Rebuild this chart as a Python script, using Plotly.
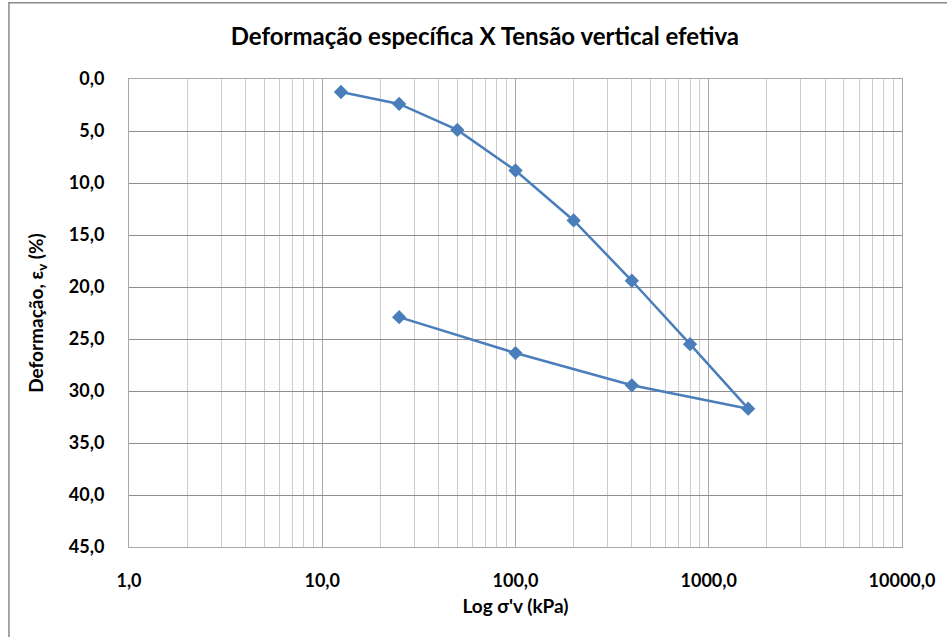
import plotly.graph_objects as go

# Data (single series: loading then unloading)
tensao_kpa = [12.5, 25, 50, 100, 200, 400, 800, 1600, 400, 100, 25]
deformacao_pct = [1.25, 2.4, 4.9, 8.8, 13.6, 19.4, 25.5, 31.7, 29.45, 26.35, 22.9]

x_tickvals = [1, 10, 100, 1000, 10000]
x_ticktext = ["1,0", "10,0", "100,0", "1000,0", "10000,0"]
y_tickvals = [0, 5, 10, 15, 20, 25, 30, 35, 40, 45]
y_ticktext = ["0,0", "5,0", "10,0", "15,0", "20,0", "25,0", "30,0", "35,0", "40,0", "45,0"]

minor_vals = [m * 10 ** d for d in range(4) for m in range(2, 10)]

FONT = "Lato"
TXT = "#000000"

fig = go.Figure()
fig.add_trace(go.Scatter(
    x=tensao_kpa, y=deformacao_pct, mode="lines+markers",
    line=dict(color="#4A7EBB", width=2.5),
    marker=dict(symbol="diamond", size=11, color="#4A7EBB"),
    showlegend=False,
))

fig.update_layout(
    width=947, height=637,
    margin=dict(l=129, r=45, t=79, b=90),
    paper_bgcolor="white", plot_bgcolor="white",
    font=dict(family=FONT, color=TXT),
    title=dict(text="<b>Deformação específica X Tensão vertical efetiva</b>",
               x=0.512, xanchor="center", y=0.942, yanchor="middle",
               font=dict(size=24, family=FONT, color="#000000")),
    xaxis=dict(
        type="log", range=[0, 4],
        tickmode="array", tickvals=x_tickvals,
        ticktext=["<b>" + t + "</b>" for t in x_ticktext],
        tickfont=dict(size=18, family=FONT, color=TXT),
        showgrid=True, gridcolor="#a8a8a8", gridwidth=1,
        minor=dict(tickmode="array", tickvals=minor_vals, showgrid=True,
                   gridcolor="#cccccc", gridwidth=1, ticks=""),
        showline=True, linecolor="#a8a8a8", linewidth=1, mirror=True,
        ticks="", ticklabelstandoff=17,
        title=dict(text="<b>Log σ'v (kPa)</b>", font=dict(size=19, family=FONT, color=TXT), standoff=10),
        zeroline=False,
    ),
    yaxis=dict(
        range=[45, 0],
        tickmode="array", tickvals=y_tickvals,
        ticktext=["<b>" + t + "</b>" for t in y_ticktext],
        tickfont=dict(size=18, family=FONT, color=TXT),
        showgrid=True, gridcolor="#8e8e8e", gridwidth=1,
        showline=True, linecolor="#a8a8a8", linewidth=1, mirror=True,
        ticks="", ticklabelstandoff=20,
        title=dict(text="<b>Deformação, ε<sub>v</sub> (%)</b>", font=dict(size=19, family=FONT, color=TXT), standoff=20),
        zeroline=False,
    ),
)

# outer chart border (top and left visible, rest outside canvas)
fig.add_shape(type="rect", xref="paper", yref="paper",
              x0=-0.1553, x1=1.2, y0=-0.3, y1=1.163,
              line=dict(color="#8a8a8a", width=1.5), fillcolor="rgba(0,0,0,0)", layer="below")

fig.write_html("out.html")
